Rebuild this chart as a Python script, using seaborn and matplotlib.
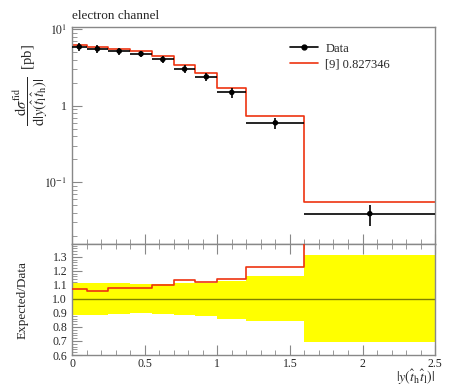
import numpy as np
import pandas as pd
import matplotlib
matplotlib.use("Agg")
import matplotlib.pyplot as plt
import seaborn as sns
from matplotlib.lines import Line2D
from matplotlib.ticker import FixedLocator, FixedFormatter, MultipleLocator, LogLocator, NullFormatter

# bins of |y(t t)|
edges = [0, 0.1, 0.25, 0.4, 0.55, 0.7, 0.85, 1.0, 1.2, 1.6, 2.5]
# measured cross section [pb]
data_vals = [5.93, 5.57, 5.2, 4.8, 4.05, 3.03, 2.40, 1.50, 0.60, 0.0388]
# relative data uncertainty (up / down)
err_up = [0.115, 0.115, 0.11, 0.105, 0.105, 0.115, 0.112, 0.13, 0.165, 0.315]
err_dn = [0.115, 0.115, 0.11, 0.10, 0.11, 0.115, 0.125, 0.145, 0.16, 0.31]
# prediction [9]
pred_vals = [6.35, 5.90, 5.62, 5.18, 4.46, 3.44, 2.69, 1.71, 0.735, 0.0555]

edges = np.array(edges)
data_vals = np.array(data_vals)
pred_vals = np.array(pred_vals)
err_up = np.array(err_up)
err_dn = np.array(err_dn)
centers = 0.5 * (edges[:-1] + edges[1:])
halfw = 0.5 * np.diff(edges)
ratio = pred_vals / data_vals

sns.set_style("ticks")
plt.rcParams['font.family'] = ['Liberation Serif', 'DejaVu Serif']
plt.rcParams['mathtext.fontset'] = 'stix'

red = '#ee3311'
frame = '#888888'

fig = plt.figure(figsize=(4.5, 3.9), dpi=100)
ax = fig.add_axes([0.16, 0.374, 0.807, 0.557])
rax = fig.add_axes([0.16, 0.0897, 0.807, 0.2843], sharex=ax)

# --- main panel ---
step_df = pd.DataFrame({'x': edges, 'y': np.append(pred_vals, pred_vals[-1])})
sns.lineplot(data=step_df, x='x', y='y', drawstyle='steps-post', color=red,
             lw=1.2, estimator=None, ax=ax, zorder=2)
ax.errorbar(centers, data_vals, xerr=halfw,
            yerr=[data_vals * err_dn, data_vals * err_up],
            fmt='none', ecolor='black', elinewidth=1.2, capsize=0, zorder=3)
sns.scatterplot(x=centers, y=data_vals, color='black', s=16, edgecolor='none',
                ax=ax, zorder=4)
ax.set_yscale('log')
ax.set_ylim(0.0155, 10.8)
ax.set_xlim(0, 2.5)
ax.yaxis.set_major_locator(FixedLocator([0.1, 1, 10]))
ax.yaxis.set_major_formatter(FixedFormatter([r'$10^{-1}$', '1', r'$10^{1}$']))
ax.yaxis.set_minor_locator(LogLocator(base=10, subs=np.arange(2, 10)))
ax.yaxis.set_minor_formatter(NullFormatter())
ax.tick_params(axis='x', labelbottom=False)
ax.set_xlabel('')
ax.set_ylabel(r'$\dfrac{\mathrm{d}\sigma^{\mathrm{fid}}}{\mathrm{d}|y(\hat{t}_{\mathrm{l}}\hat{t}_{\mathrm{h}})|}$  [pb]',
              fontsize=10.5)
ax.yaxis.set_label_coords(-0.06, 0.73)
ax.set_title('electron channel', loc='left', fontsize=9.5, pad=6)

handles = [Line2D([], [], color='black', lw=1.2, marker='o', ms=3.5),
           Line2D([], [], color=red, lw=1.2)]
ax.legend(handles, ['Data', '[9] 0.827346'], loc='upper left',
          bbox_to_anchor=(0.57, 0.98), frameon=False, fontsize=9,
          handlelength=2.2, handletextpad=0.6, labelspacing=0.3)

# --- ratio panel ---
rax.stairs(1 + err_up, edges, baseline=1 - err_dn, fill=True, color='#ffff00',
           lw=0, zorder=1)
rax.axhline(1.0, color='black', lw=1, alpha=0.5, zorder=2)
rstep = pd.DataFrame({'x': edges, 'y': np.append(ratio, ratio[-1])})
sns.lineplot(data=rstep, x='x', y='y', drawstyle='steps-post', color=red,
             lw=1.2, estimator=None, ax=rax, zorder=3)
rax.set_ylim(0.6, 1.39)
rax.set_xlim(0, 2.5)
rax.yaxis.set_major_locator(MultipleLocator(0.1))
rax.yaxis.set_minor_locator(MultipleLocator(0.02))
rax.xaxis.set_major_locator(FixedLocator([0, 0.5, 1, 1.5, 2, 2.5]))
rax.xaxis.set_major_formatter(FixedFormatter(['0', '0.5', '1', '1.5', '2', '2.5']))
rax.xaxis.set_minor_locator(MultipleLocator(0.1))
rax.set_ylabel('Expected/Data', fontsize=9.5)
rax.yaxis.set_label_coords(-0.12, 0.5)
rax.set_xlabel('')
fig.text(0.967, 0.008, r'$|y(\hat{t}_{\mathrm{h}}\hat{t}_{\mathrm{l}})|$',
         ha='right', va='bottom', fontsize=10)

for a in (ax, rax):
    for s in a.spines.values():
        s.set_color(frame)
        s.set_linewidth(1)
        s.set_visible(True)
    a.tick_params(which='both', direction='in', color=frame, labelsize=8.5,
                  top=True, right=False)
    a.tick_params(which='major', length=7)
    a.tick_params(which='minor', length=3.5)
ax.tick_params(axis='x', which='both', top=False)
rax.tick_params(axis='x', which='both', top=True)
rax.tick_params(axis='x', pad=2)

fig.savefig('out.png', dpi=100)
